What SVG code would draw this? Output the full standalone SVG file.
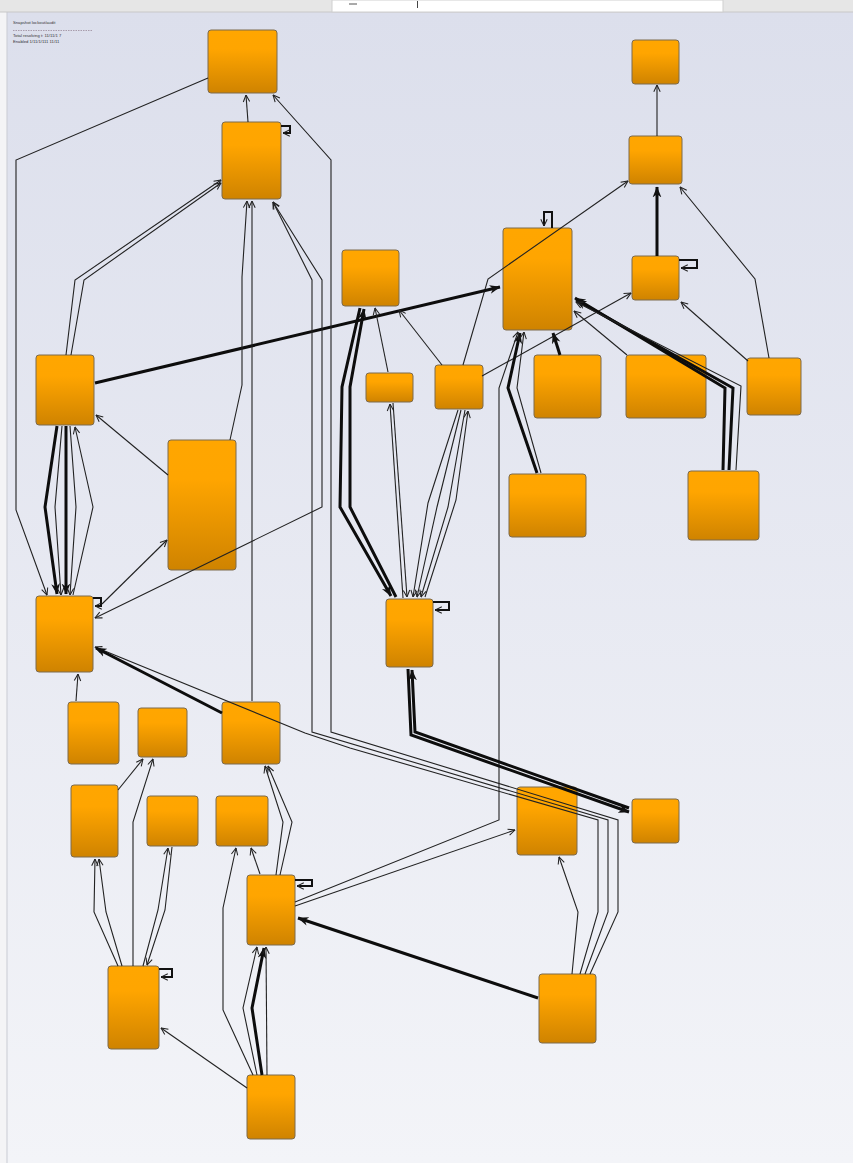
<svg xmlns="http://www.w3.org/2000/svg" width="853" height="1163" viewBox="0 0 853 1163">
<defs>
<linearGradient id="bg" x1="0" y1="0" x2="0" y2="1">
<stop offset="0" stop-color="#dcdfec"/>
<stop offset="1" stop-color="#f3f4f8"/>
</linearGradient>
<linearGradient id="ng" x1="0" y1="0" x2="0" y2="1">
<stop offset="0" stop-color="#ffa600"/>
<stop offset="0.3" stop-color="#ffa500"/>
<stop offset="1" stop-color="#cf8300"/>
</linearGradient>
<marker id="a" viewBox="0 0 10 10" refX="9.5" refY="5" markerWidth="8" markerHeight="8" markerUnits="userSpaceOnUse" orient="auto-start-reverse">
<path d="M1,1 L9.5,5 L1,9" fill="none" stroke="#222" stroke-width="1.3"/>
</marker>
<marker id="b" viewBox="0 0 10 10" refX="9.5" refY="5" markerWidth="11" markerHeight="11" markerUnits="userSpaceOnUse" orient="auto-start-reverse">
<path d="M0,1 L10,5 L0,9 L3,5 z" fill="#111"/>
</marker>
</defs>
<style>
.n{fill:url(#ng);stroke:#7d6a4d;stroke-width:1}
.e{fill:none;stroke:#222;stroke-width:1.1;marker-end:url(#a)}
.t{fill:none;stroke:#0d0d0d;stroke-width:3;marker-end:url(#b)}
.l{fill:none;stroke:#111;stroke-width:2;marker-end:url(#a)}
.txt{font-family:"Liberation Sans",Arial,sans-serif;font-size:4.2px;fill:#333}
</style>
<rect x="0" y="0" width="853" height="1163" fill="#f4f4f6"/>
<rect x="7" y="12" width="846" height="1151" fill="url(#bg)"/>
<line x1="7" y1="12" x2="7" y2="1163" stroke="#c9cbd3" stroke-width="1"/>
<rect x="0" y="0" width="853" height="12" fill="#e6e6e6"/>
<line x1="0" y1="12" x2="853" y2="12" stroke="#c8c8c8" stroke-width="1"/>
<rect x="332" y="0" width="391" height="12" fill="#ffffff" stroke="#cfcfcf" stroke-width="1"/>
<line x1="349" y1="4" x2="357" y2="4" stroke="#555" stroke-width="1"/>
<line x1="417.5" y1="1" x2="417.5" y2="8" stroke="#444" stroke-width="1"/>
<g id="legend">
<text class="txt" x="13" y="24">Snapshot lockout/audit</text>
<line x1="13" y1="30.5" x2="92" y2="30.5" stroke="#9a8a9a" stroke-width="0.8" stroke-dasharray="1.5,1"/>
<text class="txt" x="13" y="36.5">Total resolving t: 11/11/1 7</text>
<text class="txt" x="13" y="43">Enabled 1/11/1/111 11/11</text>
</g>
<g id="nodes">
<g id="n1"><rect class="n" x="208" y="30" width="69" height="63" rx="3"/></g>
<g id="n2"><rect class="n" x="222" y="122" width="59" height="77" rx="3"/></g>
<g id="n3"><rect class="n" x="632" y="40" width="47" height="44" rx="3"/></g>
<g id="n4"><rect class="n" x="629" y="136" width="53" height="48" rx="3"/></g>
<g id="n5"><rect class="n" x="503" y="228" width="69" height="102" rx="3"/></g>
<g id="n6"><rect class="n" x="632" y="256" width="47" height="44" rx="3"/></g>
<g id="n7"><rect class="n" x="342" y="250" width="57" height="56" rx="3"/></g>
<g id="n8"><rect class="n" x="366" y="373" width="47" height="29" rx="3"/></g>
<g id="n9"><rect class="n" x="435" y="365" width="48" height="44" rx="3"/></g>
<g id="n10"><rect class="n" x="534" y="355" width="67" height="63" rx="3"/></g>
<g id="n11"><rect class="n" x="626" y="355" width="80" height="63" rx="3"/></g>
<g id="n12"><rect class="n" x="747" y="358" width="54" height="57" rx="3"/></g>
<g id="n13"><rect class="n" x="509" y="474" width="77" height="63" rx="3"/></g>
<g id="n14"><rect class="n" x="688" y="471" width="71" height="69" rx="3"/></g>
<g id="n15"><rect class="n" x="36" y="355" width="58" height="70" rx="3"/></g>
<g id="n16"><rect class="n" x="168" y="440" width="68" height="130" rx="3"/></g>
<g id="n17"><rect class="n" x="36" y="596" width="57" height="76" rx="3"/></g>
<g id="n18"><rect class="n" x="386" y="599" width="47" height="68" rx="3"/></g>
<g id="n19"><rect class="n" x="68" y="702" width="51" height="62" rx="3"/></g>
<g id="n20"><rect class="n" x="138" y="708" width="49" height="49" rx="3"/></g>
<g id="n21"><rect class="n" x="222" y="702" width="58" height="62" rx="3"/></g>
<g id="n22"><rect class="n" x="71" y="785" width="47" height="72" rx="3"/></g>
<g id="n23"><rect class="n" x="147" y="796" width="51" height="50" rx="3"/></g>
<g id="n24"><rect class="n" x="216" y="796" width="52" height="50" rx="3"/></g>
<g id="n25"><rect class="n" x="517" y="787" width="60" height="68" rx="3"/></g>
<g id="n26"><rect class="n" x="632" y="799" width="47" height="44" rx="3"/></g>
<g id="n27"><rect class="n" x="247" y="875" width="48" height="70" rx="3"/></g>
<g id="n28"><rect class="n" x="108" y="966" width="51" height="83" rx="3"/></g>
<g id="n29"><rect class="n" x="539" y="974" width="57" height="69" rx="3"/></g>
<g id="n30"><rect class="n" x="247" y="1075" width="48" height="64" rx="3"/></g>
</g>
<g id="connectors">
<path class="e" d="M657,136 L657,85"/>
<path class="t" d="M657,256 L657,187"/>
<path class="e" d="M769,358 L755,279 L680,187"/>
<path class="e" d="M748,361 L681,302"/>
<path class="e" d="M463,365 L488,279 L628,181"/>
<path class="e" d="M482,376 L631,293"/>
<path class="t" d="M560,355 L553,333"/>
<path class="e" d="M627,355 L574,311"/>
<path class="t" d="M723,470 L725,388 L575,298"/>
<path class="t" d="M729,470 L733,388 L576,300"/>
<path class="e" d="M736,470 L741,386 L576,302"/>
<path class="t" d="M537,473 L508,388 L520,333"/>
<path class="e" d="M541,473 L517,388 L524,332"/>
<path class="e" d="M295,902 L499,820 L499,388 L518,332"/>
<path class="e" d="M295,906 L515,830"/>
<path class="t" d="M95,383 L500,287"/>
<path class="l" d="M552,228 V212 H544 V226"/>
<path class="e" d="M388,372 L375,308"/>
<path class="e" d="M442,365 L399,310"/>
<path class="t" d="M360,308 L342,387 L340,507 L391,596"/>
<path class="t" d="M396,597 L350,507 L350,387 L364,309"/>
<path class="e" d="M403,598 L390,404"/>
<path class="e" d="M393,403 L407,597"/>
<path class="e" d="M458,410 L428,503 L413,597"/>
<path class="e" d="M461,410 L437,507 L417,597"/>
<path class="e" d="M465,410 L448,507 L421,597"/>
<path class="e" d="M425,597 L456,500 L468,411"/>
<path class="l" d="M433,602 H449 V610 H435"/>
<path class="t" d="M408,669 L411,735 L629,812"/>
<path class="t" d="M629,808 L415,732 L412,670"/>
<path class="e" d="M572,974 L578,912 L559,857"/>
<path class="e" d="M590,974 L618,912 L618,820 L331,732 L331,160 L273,95"/>
<path class="e" d="M585,974 L608,912 L608,820 L312,732 L312,280 L273,202"/>
<path class="e" d="M580,974 L598,912 L598,820 L350,748 L305,733 L95,647"/>
<path class="e" d="M273,202 L322,280 L322,507 L95,618" style="marker-start:url(#a)"/>
<path class="e" d="M208,78 L16,160 L16,510 L47,595"/>
<path class="e" d="M248,122 L246,95"/>
<path class="l" d="M281,126 H290 V133 H283"/>
<path class="e" d="M66,355 L75,280 L221,180"/>
<path class="e" d="M71,355 L84,280 L221,183"/>
<path class="e" d="M230,440 L242,385 L242,277 L247,201"/>
<path class="e" d="M252,701 L252,201"/>
<path class="t" d="M57,426 L45,507 L57,594"/>
<path class="e" d="M62,426 L55,507 L61,595"/>
<path class="t" d="M66,426 L66,594"/>
<path class="e" d="M70,426 L76,507 L70,595"/>
<path class="e" d="M73,595 L93,507 L75,427"/>
<path class="e" d="M168,475 L96,415"/>
<path class="e" d="M102,604 L167,540"/>
<path class="l" d="M93,598 H101 V606 H95"/>
<path class="t" d="M222,713 L96,648"/>
<path class="e" d="M76,701 L78,674"/>
<path class="e" d="M118,790 L143,759"/>
<path class="e" d="M133,966 L133,822 L153,759"/>
<path class="e" d="M118,966 L94,912 L95,859"/>
<path class="e" d="M122,966 L106,912 L99,859"/>
<path class="e" d="M143,966 L158,910 L168,848"/>
<path class="e" d="M172,847 L165,910 L147,965"/>
<path class="l" d="M159,969 H172 V977 H161"/>
<path class="e" d="M247,1088 L161,1028"/>
<path class="e" d="M253,1075 L223,1010 L223,908 L236,848"/>
<path class="e" d="M257,1075 L243,1008 L257,947"/>
<path class="t" d="M262,1075 L252,1008 L264,948"/>
<path class="e" d="M267,1075 L266,947"/>
<path class="e" d="M260,874 L251,848"/>
<path class="e" d="M276,875 L283,822 L265,766"/>
<path class="e" d="M280,875 L292,822 L268,766"/>
<path class="l" d="M295,880 H312 V886 H297"/>
<path class="t" d="M538,998 L298,918"/>
<path class="l" d="M679,260 H697 V268 H681"/>
</g>
</svg>
